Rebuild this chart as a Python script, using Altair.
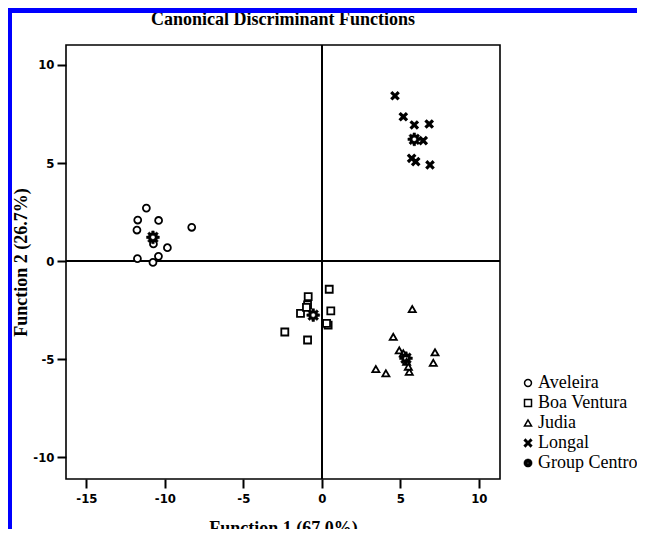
import math
import altair as alt
import pandas as pd

# ---- data ----
groups = ["Aveleira", "Boa Ventura", "Judia", "Longal", "Group Centroid"]

aveleira_x = [-11.18, -11.73, -10.40, -11.78, -8.29, -10.73, -9.84, -10.41, -11.75, -10.76]
aveleira_y = [2.70, 2.09, 2.07, 1.58, 1.72, 0.87, 0.68, 0.24, 0.12, -0.07]

boa_x = [0.47, -0.87, -0.91, -1.36, 0.57, 0.40, 0.30, -2.36, -0.91, -0.98]
boa_y = [-1.44, -1.82, -2.24, -2.67, -2.54, -3.27, -3.18, -3.62, -4.03, -2.36]

judia_x = [5.76, 4.55, 4.93, 7.21, 7.10, 3.44, 4.08, 5.57, 5.19, 5.40, 5.51]
judia_y = [-2.45, -3.87, -4.56, -4.66, -5.19, -5.51, -5.73, -5.65, -4.71, -5.14, -5.39]

longal_x = [4.66, 5.19, 5.89, 6.84, 6.46, 5.72, 5.98, 6.89]
longal_y = [8.43, 7.36, 6.94, 6.99, 6.14, 5.24, 5.07, 4.90]

centroid_x = [-10.76, -0.55, 5.36, 5.89]
centroid_y = [1.21, -2.76, -4.96, 6.21]

x_ticks = [-15, -10, -5, 0, 5, 10]
y_ticks = [-10, -5, 0, 5, 10]

title_text = "Canonical Discriminant Functions"

rows = []
for g, xs, ys in [("Aveleira", aveleira_x, aveleira_y), ("Boa Ventura", boa_x, boa_y),
                  ("Judia", judia_x, judia_y), ("Longal", longal_x, longal_y)]:
    for a, b in zip(xs, ys):
        rows.append({"f1": a, "f2": b, "group": g})
df = pd.DataFrame(rows)
cdf = pd.DataFrame({"f1": centroid_x, "f2": centroid_y, "group": "Group Centroid"})

# ---- marker shapes ----
x_path = ("M-1,-0.72L-0.72,-1L0,-0.28L0.72,-1L1,-0.72L0.28,0L1,0.72L0.72,1"
          "L0,0.28L-0.72,1L-1,0.72L-0.28,0Z")


def gear_path():
    pts = []
    for k in range(8):
        base = k * 45.0
        for ang, r in [(base - 11, 1.0), (base + 11, 1.0), (base + 16, 0.74),
                       (base + 29, 0.74)]:
            a = math.radians(ang)
            pts.append((r * math.cos(a), r * math.sin(a)))
    s = "M" + " L".join(f"{p[0]:.3f} {p[1]:.3f}" for p in pts) + " Z"
    hole = []
    for k in range(12):
        a = -math.radians(k * 30)
        hole.append((0.32 * math.cos(a), 0.32 * math.sin(a)))
    s += " M" + " L".join(f"{p[0]:.3f} {p[1]:.3f}" for p in hole) + " Z"
    return s.replace("-0.000", "0.000")


GEAR = gear_path()
shapes = ["circle", "square", "triangle-up", x_path, GEAR]
fills = ["white", "white", "white", "black", "black"]
strokes = ["black", "black", "black", "black", "black"]
sizes = [48, 52, 60, 64, 170]

serif = "Liberation Serif, Times New Roman, serif"
tickfont = "DejaVu Sans Condensed, Liberation Sans Narrow, Liberation Sans, sans-serif"

X_DOM = [-16.3, 11.35]
Y_DOM = [-11.12, 11.02]

xenc = alt.X("f1:Q", scale=alt.Scale(domain=X_DOM, nice=False, zero=False),
             axis=alt.Axis(values=x_ticks, title="Function 1 (67.0%)", grid=False, domain=False,
                           tickSize=9, tickWidth=2, tickColor="black", labelFont=tickfont,
                           labelFontSize=13, labelFontWeight="bold", labelColor="black",
                           labelPadding=4, labelExpr="'' + datum.value",
                           titleFont=serif, titleFontSize=18, titleFontWeight="bold",
                           titleColor="black", titleBaseline="top", titleY=40))
yenc = alt.Y("f2:Q", scale=alt.Scale(domain=Y_DOM, nice=False, zero=False),
             axis=alt.Axis(values=y_ticks, title="Function 2 (26.7%)", grid=False, domain=False,
                           tickSize=9, tickWidth=2, tickColor="black", labelFont=tickfont,
                           labelFontSize=13, labelFontWeight="bold", labelColor="black",
                           labelPadding=3, labelExpr="'' + datum.value",
                           titleFont=serif, titleFontSize=18, titleFontWeight="bold",
                           titleColor="black", titleAngle=-90, titleBaseline="middle",
                           titleX=-45, titleY=217, titleAlign="center"))

points = alt.Chart(df).mark_point(filled=False, opacity=1, strokeWidth=1.8).encode(
    x=xenc, y=yenc,
    shape=alt.Shape("group:N", scale=alt.Scale(domain=groups, range=shapes),
                    legend=alt.Legend(title=None)),
    fill=alt.Fill("group:N", scale=alt.Scale(domain=groups, range=fills),
                  legend=alt.Legend(title=None)),
    stroke=alt.Stroke("group:N", scale=alt.Scale(domain=groups, range=strokes),
                      legend=alt.Legend(title=None)),
    size=alt.Size("group:N", scale=alt.Scale(domain=groups, range=sizes),
                  legend=alt.Legend(title=None)),
)

centroids = alt.Chart(cdf).mark_point(shape=GEAR, size=170, filled=True, fill="black",
                                      stroke="black", strokeWidth=0.5, opacity=1).encode(
    x=alt.X("f1:Q"), y=alt.Y("f2:Q"))

zero_v = alt.Chart(df).mark_rule(color="black", strokeWidth=1.6).encode(x=alt.datum(0))
zero_h = alt.Chart(df).mark_rule(color="black", strokeWidth=1.6).encode(y=alt.datum(0))

title_mark = alt.Chart(pd.DataFrame({"t": [title_text]})).mark_text(
    font=serif, fontSize=18, fontWeight="bold", color="black", align="center",
    baseline="alphabetic").encode(text="t:N", x=alt.value(217), y=alt.value(-20))

blue_left = alt.Chart(df).mark_rule(color="#0000ff", strokeWidth=5).encode(
    x=alt.value(-56.5), y=alt.value(-40), y2=alt.value(490))
blue_top = alt.Chart(df).mark_rule(color="#0000ff", strokeWidth=6).encode(
    y=alt.value(-35), x=alt.value(-60), x2=alt.value(580))

chart = alt.layer(zero_v, zero_h, points, centroids, title_mark, blue_left, blue_top).properties(
    width=434, height=434,
    autosize=alt.AutoSizeParams(type="none"),
    padding={"left": 58, "top": 37, "right": 137, "bottom": 50},
    background="white",
).configure_view(stroke="black", strokeWidth=1.6).configure_legend(
    orient="none", legendX=453, legendY=329, labelFont=serif, labelFontSize=18,
    labelColor="black", rowPadding=2, labelOffset=1, symbolOffset=0,
)

chart.save("out.html", embed_options={"renderer": "svg", "actions": False})
